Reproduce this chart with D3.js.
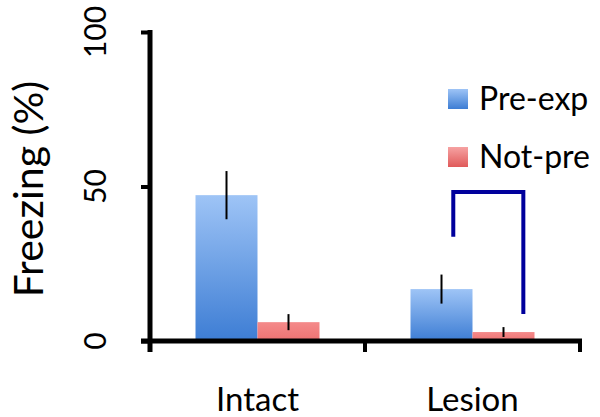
<!DOCTYPE html>
<html>
<head>
<meta charset="utf-8">
<script src="https://cdn.jsdelivr.net/npm/d3@7"></script>
<style>
  html, body { margin: 0; padding: 0; background: #fff; }
  svg { display: block; }
  text { font-family: Lato, "Open Sans", sans-serif; fill: #000; }
</style>
</head>
<body>
<svg id="chart" width="600" height="417"></svg>
<script>
// ---- data ----
const categories = ["Intact", "Lesion"];
const series = ["Pre-exp", "Not-pre"];
const preExp = [47.2, 16.8];
const notPre = [6.1, 2.9];
const preExpErr = [7.8, 4.7];
const notPreErr = [2.6, 1.6];
const yTicks = [0, 50, 100];
const yTitle = "Freezing (%)";
// significance bracket over Lesion group: left end, top, right end (in % units)
const bracketValues = [33.7, 48.2, 8.7];

// ---- layout ----
const svg = d3.select("#chart");
const x0 = d3.scaleBand().domain(categories).range([150, 580]).paddingInner(0).paddingOuter(0);
const x1 = d3.scaleBand().domain(series).range([0, x0.bandwidth()]).paddingInner(0).paddingOuter(0.734);
const y = d3.scaleLinear().domain([0, 100]).range([341, 32]);

const defs = svg.append("defs");
function grad(id, top, bottom) {
  const g = defs.append("linearGradient").attr("id", id)
    .attr("x1", 0).attr("y1", 0).attr("x2", 0).attr("y2", 1);
  g.append("stop").attr("offset", "0%").attr("stop-color", top);
  g.append("stop").attr("offset", "100%").attr("stop-color", bottom);
}
grad("gBlue", "#9ec4f6", "#3d7dd4");
grad("gRed", "#f6a2a2", "#e05a5a");
grad("gRedBar", "#f48a8a", "#ee7272");
const fills = { "Pre-exp": "url(#gBlue)", "Not-pre": "url(#gRed)" };
const barFills = { "Pre-exp": "url(#gBlue)", "Not-pre": "url(#gRedBar)" };

const rows = categories.map((c, i) => ({
  cat: c,
  vals: [
    { s: "Pre-exp", v: preExp[i], e: preExpErr[i] },
    { s: "Not-pre", v: notPre[i], e: notPreErr[i] }
  ]
}));

const groups = svg.append("g").selectAll("g").data(rows).join("g")
  .attr("transform", d => `translate(${x0(d.cat)},0)`);

groups.selectAll("rect").data(d => d.vals).join("rect")
  .attr("x", d => x1(d.s))
  .attr("y", d => y(d.v))
  .attr("width", x1.bandwidth())
  .attr("height", d => y(0) - y(d.v))
  .attr("fill", d => barFills[d.s]);

groups.selectAll("line.err").data(d => d.vals).join("line")
  .attr("class", "err")
  .attr("x1", d => x1(d.s) + x1.bandwidth() / 2)
  .attr("x2", d => x1(d.s) + x1.bandwidth() / 2)
  .attr("y1", d => y(d.v + d.e))
  .attr("y2", d => y(Math.max(0, d.v - d.e)))
  .attr("stroke", "#000").attr("stroke-width", 2);

// ---- bracket ----
const lx = x0("Lesion") + x1("Pre-exp") + x1.bandwidth() * 0.69;
const rx = x0("Lesion") + x1("Not-pre") + x1.bandwidth() * 0.82;
svg.append("path")
  .attr("d", `M${lx},${y(bracketValues[0])}V${y(bracketValues[1])}H${rx}V${y(bracketValues[2])}`)
  .attr("fill", "none").attr("stroke", "#00009c").attr("stroke-width", 4);

// ---- axes ----
const yAxis = svg.append("g").attr("transform", "translate(150,0)")
  .call(d3.axisLeft(y).tickValues(yTicks).tickSize(9).tickFormat(""));
yAxis.select(".domain").remove();
yAxis.selectAll(".tick line").attr("stroke", "#000").attr("stroke-width", 4);
svg.append("line").attr("x1", 150).attr("x2", 150).attr("y1", y(100) - 2).attr("y2", 352)
  .attr("stroke", "#000").attr("stroke-width", 5);

const xBoundaries = [150, ...categories.map(c => x0(c) + x0.bandwidth())];
svg.append("g").selectAll("line").data(xBoundaries).join("line")
  .attr("x1", d => d).attr("x2", d => d).attr("y1", y(0)).attr("y2", y(0) + 11)
  .attr("stroke", "#000").attr("stroke-width", 4);
svg.append("line").attr("x1", 141).attr("x2", 582).attr("y1", y(0)).attr("y2", y(0))
  .attr("stroke", "#000").attr("stroke-width", 5);

// tick labels (rotated)
svg.append("g").selectAll("text").data(yTicks).join("text")
  .attr("transform", d => `translate(106,${y(d)}) rotate(-90)`)
  .attr("text-anchor", "middle")
  .style("font-size", "30px")
  .text(d => d);

// y title
svg.append("text")
  .attr("transform", `translate(43,189) rotate(-90)`)
  .attr("text-anchor", "middle")
  .style("font-size", "41px")
  .text(yTitle);

// category labels
svg.append("g").selectAll("text").data(categories).join("text")
  .attr("x", d => x0(d) + x0.bandwidth() / 2)
  .attr("y", 411)
  .attr("text-anchor", "middle")
  .style("font-size", "33px")
  .text(d => d);

// legend
const legend = svg.append("g").selectAll("g").data(series).join("g")
  .attr("transform", (d, i) => `translate(448,${89 + i * 58})`);
legend.append("rect").attr("width", 20).attr("height", 20).attr("fill", d => fills[d]);
legend.append("text").attr("x", 31).attr("y", 21).style("font-size", "32px").text(d => d);
</script>
</body>
</html>
